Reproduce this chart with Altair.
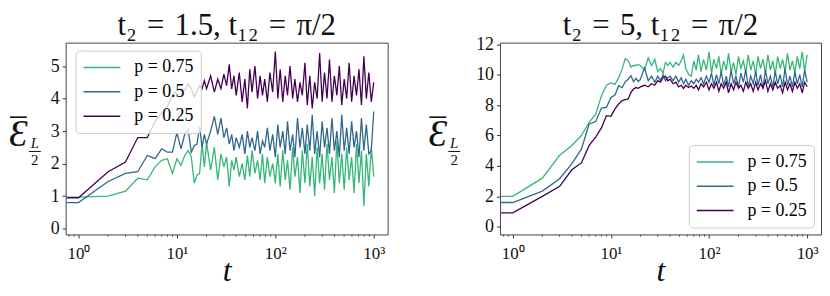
import altair as alt
import pandas as pd

# shared time grid
t = [0.76, 1, 2, 3, 4, 5, 6, 7, 8, 9, 10, 11, 12, 13, 14, 15, 16, 17, 18, 19, 20,
     22, 24, 26, 28, 30, 32, 34, 36, 38, 40,
     43, 46, 49, 52, 55, 58, 62, 66, 70, 74, 78, 83, 88, 94, 100,
     106, 112, 119, 126, 133, 141, 150, 158, 168, 178,
     188, 200, 211, 224, 237, 251, 266, 282, 299, 316,
     335, 355, 376, 398, 422, 447, 473, 501, 531, 562,
     596, 631, 668, 708, 750, 794, 841, 891, 944, 1000]

# left panel: t2 = 1.5
left_p075 = [0.97, 0.97, 1.0, 1.15, 1.55, 1.5, 1.9, 2.1, 2.15, 1.7, 2.15, 1.95, 2.25, 2.4, 2.2, 1.4, 1.65, 1.7, 2.6, 1.9, 2.65,
             1.8, 2.5, 1.5, 2.3, 1.9, 2.2, 1.3, 2.1, 1.8, 2.2,
             1.6, 2.0, 1.5, 2.25, 1.6, 2.4, 1.7, 2.1, 1.5, 2.3, 1.4, 2.2, 1.6, 2.0, 1.4,
             2.3, 1.3, 2.4, 1.5, 2.1, 1.2, 2.5, 1.6, 2.2, 1.1,
             2.4, 1.4, 2.6, 1.3, 2.2, 1.0, 2.5, 1.4, 2.3, 1.2,
             2.6, 1.5, 2.2, 1.1, 2.7, 1.4, 2.3, 1.2, 2.5, 1.5,
             2.2, 1.1, 2.6, 1.4, 2.4, 0.7, 2.3, 1.3, 2.5, 1.6]
left_p050 = [0.8, 0.8, 1.45, 1.7, 1.75, 2.25, 2.15, 2.45, 2.35, 2.35, 2.95, 2.45, 2.9, 3.05, 2.35, 2.55, 2.6, 3.15, 2.5, 2.9, 2.6,
             3.0, 3.45, 2.9, 3.4, 2.8, 3.1, 2.6, 2.9, 2.4, 2.8,
             2.5, 2.9, 2.3, 3.0, 2.5, 2.8, 2.4, 3.0, 2.3, 2.7, 2.5, 3.1, 2.4, 2.9, 2.2,
             3.2, 2.5, 3.0, 2.3, 3.3, 2.4, 2.9, 2.2, 3.4, 2.5,
             3.1, 2.3, 3.2, 2.4, 3.5, 2.3, 3.0, 2.2, 3.3, 2.5,
             3.1, 2.3, 3.4, 2.4, 3.0, 2.2, 3.5, 2.4, 3.1, 2.3,
             3.3, 2.5, 3.0, 2.2, 3.4, 2.4, 3.2, 2.3, 2.4, 3.6]
left_p025 = [0.95, 0.95, 1.75, 2.05, 2.8, 2.8, 3.3, 3.55, 3.75, 4.1, 4.25, 4.3, 4.25, 4.45, 4.3, 4.05, 4.2, 4.4, 4.3, 4.55, 4.3,
             4.7, 4.2, 4.6, 4.3, 4.75, 4.4, 5.05, 4.3, 4.7, 4.1,
             4.8, 3.9, 4.6, 3.7, 4.9, 4.2, 5.0, 4.0, 4.7, 4.1, 4.6, 3.9, 4.8, 4.2, 5.45,
             4.0, 4.9, 3.9, 4.7, 4.1, 5.0, 4.0, 4.6, 3.9, 4.5,
             4.1, 5.1, 3.8, 4.7, 3.7, 4.5, 4.0, 5.4, 3.9, 4.8,
             4.0, 5.2, 3.9, 4.7, 4.1, 5.0, 3.8, 4.6, 4.0, 5.1,
             3.9, 4.7, 4.1, 4.9, 3.8, 5.3, 4.0, 4.8, 3.9, 4.5]

# right panel: t2 = 5
right_p075 = [2.0, 2.0, 3.2, 4.7, 5.35, 6.0, 6.87, 7.4, 8.6, 9.3, 9.45, 9.36, 9.8, 10.36, 11.05, 10.9, 10.5, 10.6, 10.6, 10.65, 10.6,
              10.3, 11.1, 10.6, 11.0, 10.2, 10.4, 10.1, 10.8, 10.6, 10.8,
              10.5, 10.8, 10.6, 10.9, 11.3, 10.4, 10.0, 9.9, 10.9, 10.3, 11.3, 10.2, 11.0, 10.3, 11.5,
              10.1, 11.0, 10.4, 11.2, 10.0, 10.9, 10.3, 11.4, 10.2, 10.8,
              10.0, 11.2, 10.4, 10.9, 10.1, 11.3, 10.3, 10.9, 10.0, 11.2,
              10.4, 11.0, 10.1, 11.3, 10.3, 10.9, 10.0, 11.2, 10.4, 11.0,
              10.2, 11.4, 10.3, 10.9, 10.1, 11.2, 10.4, 11.5, 10.2, 11.3]
right_p050 = [1.6, 1.6, 2.35, 3.16, 4.15, 5.1, 6.76, 6.92, 7.8, 7.85, 8.5, 8.66, 9.27, 9.14, 9.53, 9.7, 9.93, 9.53, 9.75, 9.55, 9.7,
              10.45, 9.6, 9.9, 9.5, 9.9, 9.6, 10.0, 9.6, 9.8, 9.9,
              9.6, 9.9, 9.5, 9.8, 9.4, 9.7, 9.3, 9.6, 9.4, 9.7, 9.5, 9.8, 9.4, 9.9, 9.5,
              10.1, 9.3, 10.0, 9.4, 10.2, 9.3, 9.9, 9.2, 10.3, 9.4,
              9.9, 9.2, 10.1, 9.5, 10.3, 9.2, 9.9, 9.4, 10.2, 9.3,
              10.0, 9.1, 10.3, 9.4, 9.9, 9.2, 10.2, 9.4, 10.0, 9.2,
              10.4, 9.3, 9.9, 9.2, 10.2, 9.4, 10.0, 9.2, 10.3, 9.5]
right_p025 = [0.92, 0.92, 2.0, 2.66, 3.75, 4.2, 5.35, 5.9, 6.5, 7.3, 7.26, 7.75, 8.07, 8.29, 8.36, 8.4, 8.83, 9.05, 9.15, 9.1, 9.2,
              9.3, 9.2, 9.4, 9.3, 9.6, 9.5, 9.8, 9.9, 9.6, 9.7,
              9.4, 9.5, 9.2, 9.3, 9.1, 9.3, 9.15, 9.25, 9.1, 9.3, 9.0, 9.4, 9.2, 9.5, 9.0,
              9.4, 9.1, 9.5, 8.9, 9.4, 9.1, 9.5, 8.8, 9.4, 9.0,
              9.5, 9.1, 9.3, 8.9, 9.5, 9.1, 9.4, 8.9, 9.5, 9.0,
              9.4, 9.1, 9.6, 8.9, 9.4, 9.0, 9.5, 9.1, 9.3, 8.8,
              9.5, 9.0, 9.4, 8.9, 9.5, 9.1, 9.4, 8.8, 9.5, 9.2]

labels = ["p = 0.75", "p = 0.5", "p = 0.25"]
colors = ["#35b779", "#31688e", "#440154"]
major_t = [1, 10, 100, 1000]
minor_t = [0.8, 0.9, 2, 3, 4, 5, 6, 7, 8, 9, 20, 30, 40, 50, 60, 70, 80, 90,
           200, 300, 400, 500, 600, 700, 800, 900]
left_yticks = [0, 1, 2, 3, 4, 5]
right_yticks = [0, 2, 4, 6, 8, 10, 12]

FONT = "Liberation Serif"
W_L, W_R, H = 324, 323, 193
SP = "\u2004"


def panel(series, ydomain, yticks, title, width, lx, ly, dx, toff):
    rows = []
    for lab, vals in zip(labels, series):
        for tt, v in zip(t, vals):
            rows.append({"t": tt, "E": v, "p": lab})
    df = pd.DataFrame(rows)
    xscale = alt.Scale(type="log", domain=[0.74, 1385], nice=False)
    xaxis = alt.Axis(values=major_t, title="t",
                     labelExpr="datum.value == 1 ? '10⁰' : datum.value == 10 ? '10¹' : datum.value == 100 ? '10²' : '10³'",
                     labelFontSize=17, labelPadding=8, titlePadding=-6,
                     titleFontSize=32, titleFontStyle="italic", titleFontWeight="normal")
    lines = alt.Chart(df).mark_line(strokeWidth=1.3, clip=True).encode(
        x=alt.X("t:Q", scale=xscale, axis=xaxis),
        y=alt.Y("E:Q", scale=alt.Scale(domain=ydomain, nice=False, zero=False),
                axis=alt.Axis(values=yticks, title=None, labelFontSize=18, labelPadding=3)),
        color=alt.Color("p:N", scale=alt.Scale(domain=labels, range=colors),
                        legend=alt.Legend(title=None, orient="none", legendX=lx, legendY=ly,
                                          symbolType="stroke", symbolSize=1369, symbolStrokeWidth=1.5,
                                          clipHeight=20, rowPadding=4.5, padding=7,
                                          labelFont=FONT, labelFontSize=18, labelOffset=13,
                                          fillColor="rgba(255,255,255,0.8)", strokeColor="#cccccc",
                                          cornerRadius=4)),
    )
    minor = alt.Chart(pd.DataFrame({"t": minor_t})).mark_rule(color="#333", strokeWidth=0.8).encode(
        x=alt.X("t:Q", scale=xscale, axis=xaxis),
        y=alt.value(H), y2=alt.value(H + 2.2),
    )
    one = pd.DataFrame({"s": ["Ɛ"]})
    bigE = alt.Chart(one).mark_text(font=FONT, fontSize=38, fontStyle="italic", align="left",
                                    baseline="alphabetic", color="#111").encode(
        x=alt.value(-61 + dx), y=alt.value(104), text="s:N")
    over = alt.Chart(one).mark_rule(color="#111", strokeWidth=1.6).encode(
        x=alt.value(-60 + dx), x2=alt.value(-43 + dx), y=alt.value(75))
    subL = alt.Chart(pd.DataFrame({"s": ["L"]})).mark_text(font=FONT, fontSize=15, fontStyle="italic",
                                                          align="center", baseline="alphabetic",
                                                          color="#111").encode(
        x=alt.value(-35 + dx), y=alt.value(106), text="s:N")
    bar = alt.Chart(one).mark_rule(color="#111", strokeWidth=1).encode(
        x=alt.value(-41 + dx), x2=alt.value(-29 + dx), y=alt.value(109.5))
    sub2 = alt.Chart(pd.DataFrame({"s": ["2"]})).mark_text(font=FONT, fontSize=15, align="center",
                                                          baseline="alphabetic", color="#111").encode(
        x=alt.value(-35 + dx), y=alt.value(123), text="s:N")
    return alt.layer(lines, minor, bigE, over, subL, bar, sub2).properties(
        width=width, height=H,
        title=alt.Title(title, font=FONT, fontSize=31, fontWeight="normal", offset=toff, anchor="middle",
                        frame="group", color="#111"),
    )


left = panel([left_p075, left_p050, left_p025], [-0.18, 5.72], left_yticks,
             f"t₂{SP}={SP}1.5, t₁₂{SP}={SP}π/2", W_L, 10, 8, 4, 1)
right = panel([right_p075, right_p050, right_p025], [-0.5, 12.1], right_yticks,
              f"t₂{SP}={SP}5, t₁₂{SP}={SP}π/2", W_R, 190, 103, -11, -7)

chart = alt.hconcat(left, right, spacing=113, bounds="flush").resolve_scale(color="independent").resolve_legend(
    color="independent"
).properties(padding=0).configure_view(stroke="#444", strokeWidth=1).configure_axis(
    labelFont=FONT, titleFont=FONT, labelColor="#111", titleColor="#111",
    tickColor="#333", tickSize=3.5, domain=False, grid=False,
)

chart.save("out.html", embed_options={"renderer": "svg", "actions": False})
